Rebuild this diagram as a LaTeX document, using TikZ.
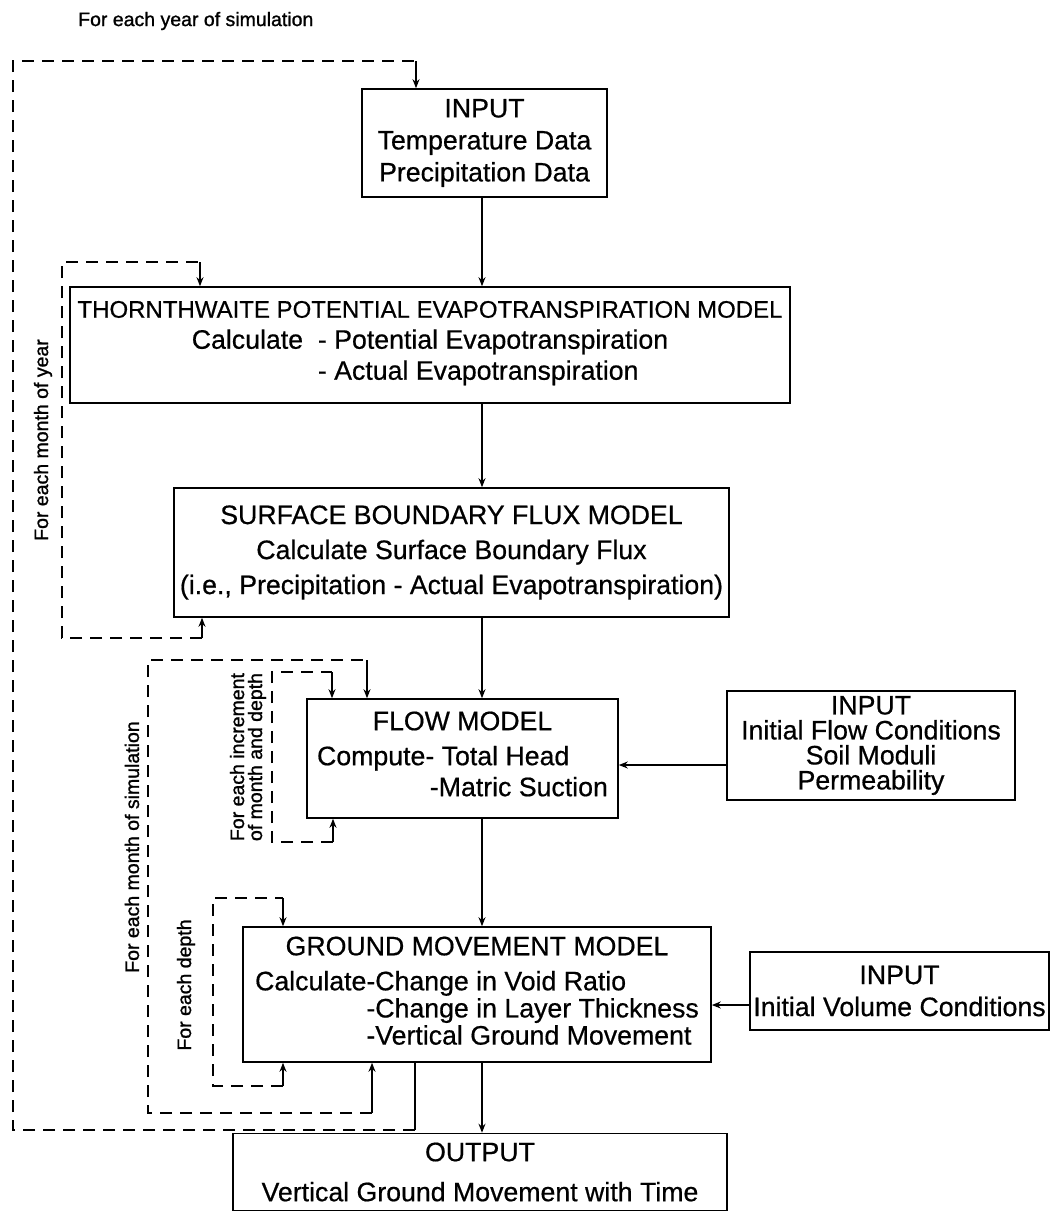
\documentclass[tikz,border=0pt]{standalone}
\usepackage{fontspec}
\setmainfont{Liberation Sans}[FakeBold=0.6]
\newfontfamily\loopfamily{Liberation Sans}[FakeBold=1.2]
\usetikzlibrary{arrows.meta, positioning, calc}
\newcommand{\boxfont}{\fontsize{26.7}{31}\selectfont}
\newcommand{\loopfont}{\loopfamily\fontsize{19.5}{18}\selectfont}
\tikzset{
  block/.style={
    draw, line width=1.6pt, align=center,
    inner sep=0pt, font=\boxfont
  },
  mainarr/.style={
    -{Stealth[length=9pt,width=7pt]}, line width=1.5pt
  },
  looptip/.style={
    -{Stealth[length=9pt,width=7pt]}, line width=1.5pt
  },
  dashloop/.style={
    line width=1.6pt, dash pattern=on 12pt off 8pt
  },
  looplbl/.style={rotate=90, font=\loopfont, inner sep=0pt, align=left}
}

\begin{document}
\begin{tikzpicture}[x=1pt, y=-1pt]
  \useasboundingbox (0,0) rectangle (1050,1213);
  % boxes
  \node[block, minimum width=245pt, minimum height=108pt, font=\fontsize{26.7}{32}\selectfont] (inclim) at (484.5,143)
    {INPUT\\Temperature Data\\Precipitation Data};
  \node[block, minimum width=720pt, minimum height=116pt] (thorn) at (430,345)
    {{\fontsize{24}{31}\selectfont THORNTHWAITE POTENTIAL EVAPOTRANSPIRATION MODEL}\\
     \begin{tabular}[t]{@{}l@{\ \ }l@{}}Calculate & - Potential Evapotranspiration\\ & - Actual Evapotranspiration\end{tabular}};
  \node[block, minimum width=555pt, minimum height=129pt, font=\fontsize{26.7}{35}\selectfont] (surf) at (451.5,552.5)
    {SURFACE BOUNDARY FLUX MODEL\\Calculate Surface Boundary Flux\\(i.e., Precipitation - Actual Evapotranspiration)};
  \node[block, minimum width=311pt, minimum height=119pt] (flow) at (462.5,758.5)
    {FLOW MODEL\\[4pt]
     \begin{tabular}[t]{@{}l@{}l@{}}Compute & - Total Head\\ & \,-Matric Suction\end{tabular}};
  \node[block, minimum width=288pt, minimum height=109pt, font=\fontsize{26.7}{25}\selectfont] (inflow) at (871,745.5)
    {INPUT\\Initial Flow Conditions\\Soil Moduli\\Permeability};
  \node[block, minimum width=468pt, minimum height=135pt, font=\fontsize{26.7}{26}\selectfont] (ground) at (477,994.5)
    {GROUND MOVEMENT MODEL\\[9pt]
     \begin{tabular}[t]{@{}l@{}l@{}}Calculate & -Change in Void Ratio\\ & -Change in Layer Thickness\\ & -Vertical Ground Movement\end{tabular}};
  \node[block, minimum width=299pt, minimum height=78pt, font=\fontsize{26.7}{32}\selectfont] (invol) at (899.5,991)
    {INPUT\\Initial Volume Conditions};
  \node[block, minimum width=494pt, minimum height=77pt] (output) at (480,1172)
    {OUTPUT\\[9pt]Vertical Ground Movement with Time};

  % main flow
  \coordinate (axis) at (482,0);
  \draw[mainarr] (axis |- inclim.south) -- (axis |- thorn.north);
  \draw[mainarr] (axis |- thorn.south) -- (axis |- surf.north);
  \draw[mainarr] (axis |- surf.south) -- (axis |- flow.north);
  \draw[mainarr] (axis |- flow.south) -- (axis |- ground.north);
  \draw[mainarr] (axis |- ground.south) -- (axis |- output.north);
  \coordinate (fy) at (0,765);
  \draw[mainarr] (inflow.west |- fy) -- (flow.east |- fy);
  \coordinate (vy) at (0,1005);
  \draw[mainarr] (invol.west |- vy) -- (ground.east |- vy);

  % year loop
  \coordinate (yr1) at (415,1130); \coordinate (yr2) at (13,1130);
  \coordinate (yr3) at (13,61);    \coordinate (yr4) at (416,61);
  \draw[line width=1.5pt] (yr1 |- ground.south) -- (yr1);
  \draw[dashloop] (yr1) -- (yr2) -- (yr3) -- (yr4);
  \draw[looptip] (yr4) -- (yr4 |- inclim.north);
  % month of year loop
  \coordinate (my1) at (202,638); \coordinate (my2) at (62,638);
  \coordinate (my3) at (62,262);  \coordinate (my4) at (200,262);
  \draw[looptip] (my1) -- (my1 |- surf.south);
  \draw[dashloop] (my1) -- (my2) -- (my3) -- (my4);
  \draw[looptip] (my4) -- (my4 |- thorn.north);
  % month of simulation loop
  \coordinate (ms1) at (372,1113); \coordinate (ms2) at (148,1113);
  \coordinate (ms3) at (148,660);  \coordinate (ms4) at (367,660);
  \draw[looptip] (ms1) -- (ms1 |- ground.south);
  \draw[dashloop] (ms1) -- (ms2) -- (ms3) -- (ms4);
  \draw[looptip] (ms4) -- (ms4 |- flow.north);
  % increment loop
  \coordinate (in1) at (333,842); \coordinate (in2) at (272,842);
  \coordinate (in3) at (272,672); \coordinate (in4) at (332,672);
  \draw[looptip] (in1) -- (in1 |- flow.south);
  \draw[dashloop] (in1) -- (in2) -- (in3) -- (in4);
  \draw[looptip] (in4) -- (in4 |- flow.north);
  % depth loop
  \coordinate (dp1) at (283,1086); \coordinate (dp2) at (213,1086);
  \coordinate (dp3) at (213,898);  \coordinate (dp4) at (283,898);
  \draw[looptip] (dp1) -- (dp1 |- ground.south);
  \draw[dashloop] (dp1) -- (dp2) -- (dp3) -- (dp4);
  \draw[looptip] (dp4) -- (dp4 |- ground.north);

  % loop labels
  \node[font=\loopfont, anchor=west, inner sep=0pt] (yrlbl) at (78,21) {For each year of simulation};
  \node[looplbl] (mylbl) at (43,440) {For each month of year};
  \node[looplbl] (mslbl) at (132,847) {For each month of simulation};
  \node[looplbl] (inlbl) at (248,757) {For each increment\\of month and depth};
  \node[looplbl] (dplbl) at (186,985) {For each depth};
\end{tikzpicture}
\end{document}
